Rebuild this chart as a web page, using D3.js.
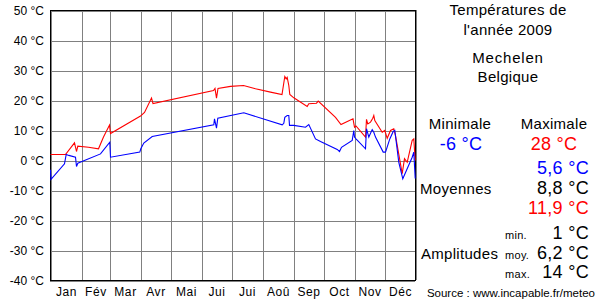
<!DOCTYPE html>
<html>
<head>
<meta charset="utf-8">
<script src="https://cdn.jsdelivr.net/npm/d3@7"></script>
<style>
    body { margin: 0; background: #fff; }
    svg { display: block; font-family: "Liberation Sans", Arial, sans-serif; }
    .grid line { stroke: #808080; stroke-width: 1; shape-rendering: crispEdges; }
    .grid .domain { display: none; }
</style>
</head>
<body>
<div id="chart"></div>
<script>
// month labels and the day each month starts on (2009)
const months = ["Jan", "Fév", "Mar", "Avr", "Mai", "Jui", "Jui", "Aoû", "Sep", "Oct", "Nov", "Déc"];
const monthStarts = [0, 31, 59, 90, 120, 151, 181, 212, 243, 273, 304, 334, 365];
const yTicks = [-40, -30, -20, -10, 0, 10, 20, 30, 40, 50];

// daily max temperatures [day of year, °C]
const maxTemps = [
    [0, 2], [15, 2], [24, 5.9], [26, 3], [27.3, 4.8], [38, 4.4], [48, 3.9], [53, 7.8],
    [59, 11.8], [60, 9], [90, 14.8], [94, 16], [101, 20.8], [102.5, 19], [163, 23.3],
    [164.5, 24], [166, 20.8], [167.5, 24], [180, 24.7], [193, 25], [205, 23.9],
    [220, 22.8], [231.5, 22], [234.3, 28], [235.7, 27.2], [236.7, 27.7], [238.3, 25],
    [239.3, 22], [243.3, 20.9], [256.7, 18], [258.3, 18.9], [266, 19.1], [267.7, 19.8],
    [285, 14.4], [290.5, 12], [302.5, 13.9], [304, 11.1], [305.5, 11.5], [315, 7.8],
    [316, 13.7], [317.3, 12.2], [320, 12.8], [322.3, 14.1], [323.3, 15], [324.3, 13.3],
    [331.7, 9.4], [334.3, 10], [336.7, 7.4], [340, 10], [343.3, 10.6], [345, 8.3],
    [351.7, -4.4], [354, 0.6], [356.7, -0.6], [361.7, 6.7], [363.3, 7.2], [364.7, 0]
];

// daily min temperatures [day of year, °C]
const minTemps = [
    [0, -3.1], [0.5, -6.3], [14, -1.1], [15.7, 2], [18.3, 1.7], [25, 1.1], [26, -2],
    [27.3, -0.9], [50, 2.2], [59.3, 6.1], [60, 1.1], [89.3, 2.8], [90.3, 3.9], [93.3, 5.8],
    [101.7, 8], [163.3, 11.9], [164, 13.9], [166, 10.8], [167.3, 14.1], [193.3, 15.9],
    [231.7, 11.9], [233.3, 12.4], [234.3, 14.4], [236.7, 15], [238.3, 15], [239, 11.7],
    [243.3, 11.7], [255, 11.1], [258.3, 12], [265, 7.2], [270, 6.3], [286.7, 3.7],
    [289, 3], [291, 4.4], [301.7, 6.7], [303.3, 10], [304, 7.8], [306, 7], [315, 3.9],
    [316, 10.6], [318.3, 7.8], [321.7, 10.3], [323.3, 9.4], [325, 7.8], [332.7, 2.8],
    [335, 2.8], [339.3, 7.2], [342.7, 9.7], [344.3, 10], [348.3, -0.6], [352.3, -6.1],
    [361.7, 1.1], [363.3, 2.8], [364.7, -6]
];

const W = 600, H = 300;
const plot = { left: 50, right: 415, top: 10, bottom: 280 };

const svg = d3.select("#chart").append("svg")
    .attr("width", W)
    .attr("height", H);

const x = d3.scaleLinear().domain([0, 365]).range([plot.left + 0.5, plot.right + 0.5]);
const y = d3.scaleLinear().domain([-40, 50]).range([plot.bottom + 0.5, plot.top + 0.5]);

// horizontal grid + y labels
const yAxis = svg.append("g")
    .attr("class", "grid")
    .attr("transform", `translate(${plot.left}, 0)`)
    .call(d3.axisLeft(y).tickValues(yTicks).tickSize(-(plot.right - plot.left)).tickPadding(6)
        .tickFormat(d => `${d} °C`));
yAxis.selectAll("text")
    .attr("fill", "#000")
    .attr("font-size", 12)
    .attr("x", -6);

// vertical grid at month boundaries
svg.append("g")
    .attr("class", "grid")
    .attr("transform", `translate(0, ${plot.bottom})`)
    .call(d3.axisBottom(x).tickValues(monthStarts).tickSize(-(plot.bottom - plot.top)).tickFormat(""));

// month labels centred in each month
const mids = months.map((m, i) => (monthStarts[i] + monthStarts[i + 1]) / 2);
const xLabels = svg.append("g")
    .attr("transform", `translate(0, ${plot.bottom})`)
    .call(d3.axisBottom(x).tickValues(mids).tickSize(0).tickPadding(7)
        .tickFormat((d, i) => months[i]));
xLabels.select(".domain").remove();
xLabels.selectAll("text")
    .attr("fill", "#000")
    .attr("font-size", 12)
    .attr("letter-spacing", 0.6);

// frame
svg.append("rect")
    .attr("x", plot.left + 0.5)
    .attr("y", plot.top + 0.5)
    .attr("width", plot.right - plot.left)
    .attr("height", plot.bottom - plot.top)
    .attr("fill", "none")
    .attr("stroke", "#000")
    .attr("shape-rendering", "crispEdges");

const line = d3.line()
    .x(d => x(d[0]))
    .y(d => y(d[1]));

svg.append("path")
    .datum(maxTemps)
    .attr("d", line)
    .attr("fill", "none")
    .attr("stroke", "#ff0000")
    .attr("stroke-width", 1.1);

svg.append("path")
    .datum(minTemps)
    .attr("d", line)
    .attr("fill", "none")
    .attr("stroke", "#0000ff")
    .attr("stroke-width", 1.1);

// side panel
const panel = svg.append("g").attr("fill", "#000");

function label(txt, px, py, size, anchor = "middle", color = "#000", spacing = 0.3) {
    panel.append("text")
        .attr("x", px)
        .attr("y", py)
        .attr("font-size", size)
        .attr("text-anchor", anchor)
        .attr("fill", color)
        .attr("letter-spacing", spacing)
        .text(txt);
}

label("Températures de", 508, 15, 15);
label("l'année 2009", 508, 35, 15);
label("Mechelen", 508, 63, 15, "middle", "#000", 0.8);
label("Belgique", 508, 82, 15);

label("Minimale", 460, 129, 15);
label("Maximale", 554, 129, 15);
label("-6 °C", 461, 150, 18, "middle", "#0000ff");
label("28 °C", 554, 150, 18, "middle", "#ff0000");

label("5,6 °C", 589, 174, 18, "end", "#0000ff");
label("Moyennes", 420, 194, 15, "start");
label("8,8 °C", 589, 194, 18, "end");
label("11,9 °C", 589, 214, 18, "end", "#ff0000");

label("min.", 505, 239, 11, "start");
label("1 °C", 589, 239, 18, "end");
label("Amplitudes", 421, 259, 15, "start");
label("moy.", 505, 259, 11, "start");
label("6,2 °C", 589, 259, 18, "end");
label("max.", 505, 278, 11, "start");
label("14 °C", 589, 278, 18, "end");

label("Source : www.incapable.fr/meteo", 595, 297, 11.5, "end", "#000", 0);
</script>
</body>
</html>
